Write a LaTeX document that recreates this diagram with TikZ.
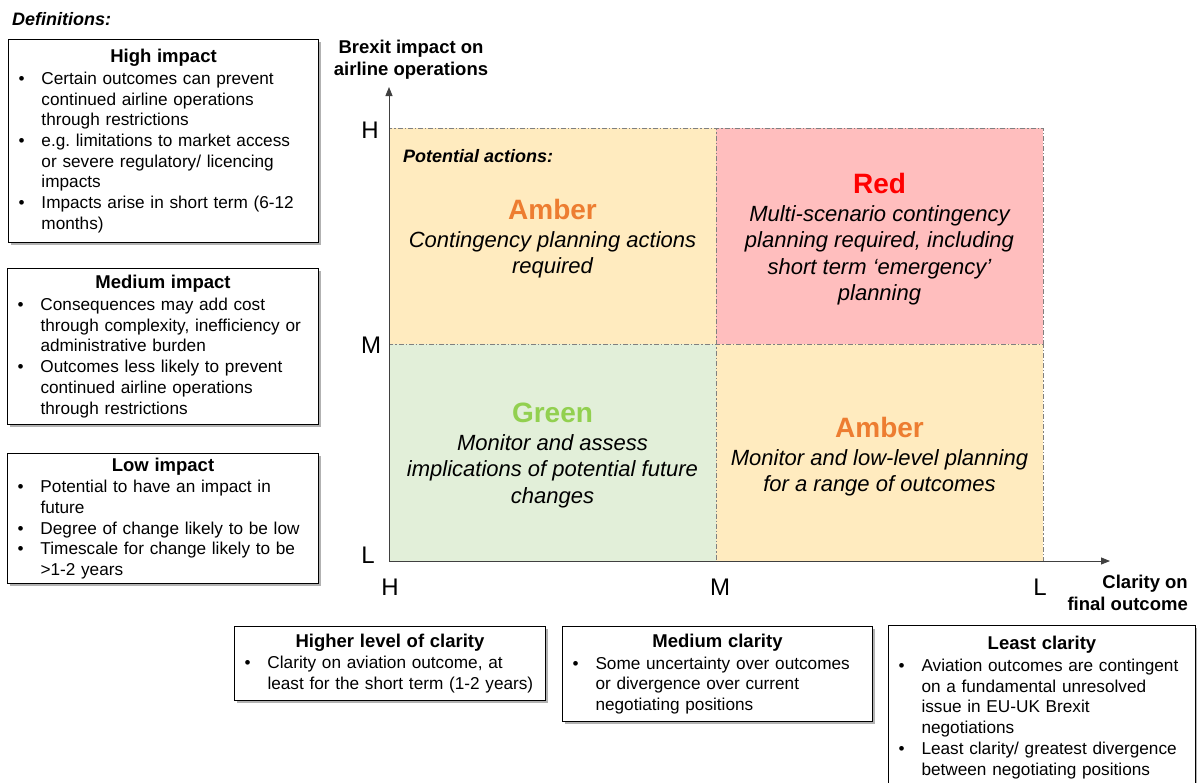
\documentclass[tikz,border=0pt]{standalone}
\usepackage{fontspec}
\setmainfont{Liberation Sans}
\usetikzlibrary{arrows.meta,shadows}
\definecolor{amberfill}{HTML}{FFEBBF}
\definecolor{redfill}{HTML}{FFBEBE}
\definecolor{greenfill}{HTML}{E2EFD9}
\definecolor{ambertext}{HTML}{ED7D31}
\definecolor{redtext}{HTML}{FF0000}
\definecolor{greentext}{HTML}{92D050}
\definecolor{quadline}{HTML}{808080}
\definecolor{axisgray}{HTML}{404040}
\newlength\bulind \setlength\bulind{33pt}
\newcommand\bodyfont{\fontsize{17.2}{20.7}\selectfont}
\newcommand\qfont{\fontsize{22}{26.5}\selectfont\itshape}
\newcommand\bul[1]{\par\hangindent=\bulind\hangafter=1\noindent\makebox[\bulind][l]{\hspace{10pt}•}#1\par}
\newcommand\boxtitle[1]{{\centering\fontsize{18.5}{22}\selectfont\bfseries #1\par}\vskip1pt}
\newcommand\qhead[2]{{\fontsize{28}{28}\selectfont\bfseries\upshape\color{#1}#2}}
\begin{document}
\begin{tikzpicture}[x=1pt,y=-1pt,
  defbox/.style={draw=black,line width=1pt,fill=white,anchor=north west,inner sep=0pt,align=left,font=\bodyfont,
    drop shadow={shadow xshift=2.5pt,shadow yshift=-2.5pt,fill=black,opacity=0.3}},
  quad/.style={anchor=north west,inner sep=0pt,draw=quadline,line width=0.8pt,dash pattern=on 5pt off 2pt on 1.2pt off 2pt},
  qtext/.style={anchor=north,inner sep=0pt,align=center,font=\qfont},
  axis/.style={draw=axisgray,line width=0.9pt,-{Triangle[length=9pt,width=7pt]}},
  tick/.style={font=\fontsize{24}{24}\selectfont,inner sep=0pt},
  axtitle/.style={font=\fontsize{18.5}{22}\selectfont\bfseries,inner sep=0pt},
  hint/.style={font=\fontsize{18}{22}\selectfont\bfseries\itshape,inner sep=0pt,anchor=base west}
]
\clip (0,0) rectangle (1197,782);
\fill[white] (0,0) rectangle (1197,782);

% title
\node[hint] (defs) at (12,25) {Definitions:};

% left definition boxes
\node[defbox,text width=310pt,minimum height=203pt] (high) at (8,39) {%
\boxtitle{High impact}%
\bul{Certain outcomes can prevent\newline continued airline operations\newline through restrictions}%
\bul{e.g.\ limitations to market access\newline or severe regulatory/ licencing\newline impacts}%
\bul{Impacts arise in short term (6-12\newline months)}};

\node[defbox,text width=311pt,minimum height=156pt] (medium) at (7,268) {%
\boxtitle{Medium impact}%
\bul{Consequences may add cost\newline through complexity, inefficiency or\newline administrative burden}%
\bul{Outcomes less likely to prevent\newline continued airline operations\newline through restrictions}};

\node[defbox,text width=311pt,minimum height=130pt] (low) at (7,453) {%
\boxtitle{Low impact}%
\bul{Potential to have an impact in\newline future}%
\bul{Degree of change likely to be low}%
\bul{Timescale for change likely to be\newline >1-2 years}};

% quadrants
\node[quad,fill=amberfill,minimum width=327pt,minimum height=216pt] (qTL) at (389,128) {};
\node[quad,fill=redfill,minimum width=327pt,minimum height=216pt] (qTR) at (716,128) {};
\node[quad,fill=greenfill,minimum width=327pt,minimum height=217pt] (qBL) at (389,344) {};
\node[quad,fill=amberfill,minimum width=327pt,minimum height=217pt] (qBR) at (716,344) {};

\node[hint] (pot) at (403,162) {Potential actions:};

\node[qtext] (tTL) at (552.5,198.6) {\qhead{ambertext}{Amber}\\[1.5pt]Contingency planning actions\\required};
\node[qtext] (tTR) at (879.5,172.6) {\qhead{redtext}{Red}\\[1.5pt]Multi-scenario contingency\\planning required, including\\short term ‘emergency’\\planning};
\node[qtext] (tBL) at (552.5,402.3) {\qhead{greentext}{Green}\\[1.5pt]Monitor and assess\\implications of potential future\\changes};
\node[qtext] (tBR) at (879.5,416.6) {\qhead{ambertext}{Amber}\\[1.5pt]Monitor and low-level planning\\for a range of outcomes};

% axes
\coordinate (O) at (389,561);
\coordinate (ytip) at (389,87);
\coordinate (xtip) at (1110,561);
\draw[axis] (O) -- (ytip);
\draw[axis] (O) -- (xtip);

\node[tick] (yH) at (370,130) {H};
\node[tick] (yM) at (371,345) {M};
\node[tick] (yL) at (368,555) {L};
\node[tick] (xH) at (390,587) {H};
\node[tick] (xM) at (720,587) {M};
\node[tick] (xL) at (1040,587) {L};

\node[axtitle,align=center,anchor=north] (ytitle) at (411,40) {Brexit impact on\\airline operations};
\node[axtitle,align=right,anchor=north east] (xtitle) at (1188,574.5) {Clarity on\\final outcome};

% bottom clarity boxes
\node[defbox,text width=311pt,minimum height=74pt] (hiclar) at (234,626) {%
\boxtitle{Higher level of clarity}%
\bul{Clarity on aviation outcome, at\newline least for the short term (1-2 years)}};

\node[defbox,text width=310pt,minimum height=95pt] (medclar) at (562,626) {%
\boxtitle{Medium clarity}%
\bul{Some uncertainty over outcomes\newline or divergence over current\newline negotiating positions}};

\node[defbox,text width=307pt,minimum height=164pt] (leastclar) at (888,625) {%
\boxtitle{Least clarity}%
\bul{Aviation outcomes are contingent\newline on a fundamental unresolved\newline issue in EU-UK Brexit\newline negotiations}%
\bul{Least clarity/ greatest divergence\newline between negotiating positions}};
\end{tikzpicture}
\end{document}
